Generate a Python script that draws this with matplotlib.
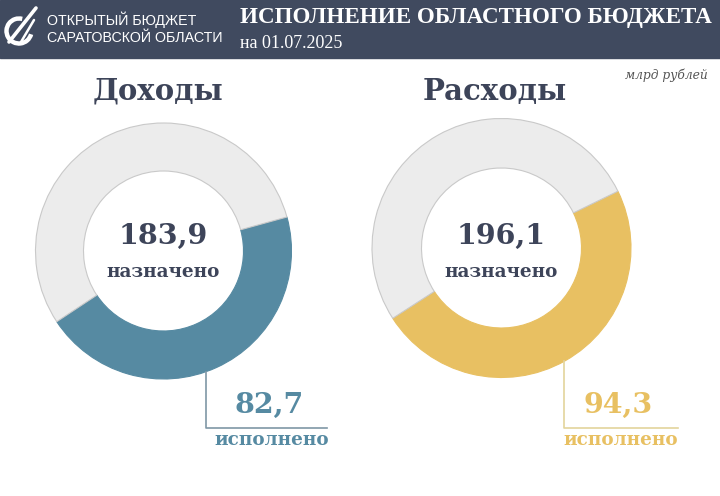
import matplotlib.pyplot as plt
from matplotlib.patches import Rectangle, Arc

# data (млрд рублей)
titles = ['Доходы', 'Расходы']
planned = [183.9, 196.1]
done = [82.7, 94.3]
colors = ['#568aa2', '#e8c062']
line_colors = ['#7f97a6', '#e3d49c']
header_title = 'ИСПОЛНЕНИЕ ОБЛАСТНОГО БЮДЖЕТА'
header_date = 'на 01.07.2025'
logo_lines = ['ОТКРЫТЫЙ БЮДЖЕТ', 'САРАТОВСКОЙ ОБЛАСТИ']
units = 'млрд рублей'

W, H = 720, 496
dark = '#3d4459'
serif = ['DejaVu Serif']
times = ['Liberation Serif', 'DejaVu Serif']
sans = ['Liberation Sans', 'DejaVu Sans']

fig = plt.figure(figsize=(7.2, 4.96), dpi=100)
ax = fig.add_axes([0, 0, 1, 1])


def fy(y):
    # image pixel row -> axis y
    return H - y


# header band + logo
ax.add_patch(Rectangle((0, fy(58)), W, 58, color='#404a5f', zorder=1))
ax.add_patch(Arc((19, fy(31)), 25, 25, theta1=75, theta2=345, ec='white', lw=3.2, zorder=2))
ax.plot([9, 36], [fy(42), fy(8)], color='white', lw=2.6, solid_capstyle='round', zorder=3)
ax.plot([21, 34], [fy(42), fy(20)], color='white', lw=1.8, solid_capstyle='round', zorder=3)
ax.text(47, fy(20), logo_lines[0], color='white', fontsize=10.3,
        family=sans, va='center', ha='left', zorder=3)
ax.text(47, fy(38), logo_lines[1], color='white', fontsize=10.3,
        family=sans, va='center', ha='left', zorder=3)
ax.text(240, fy(18), header_title, color='white', fontsize=16.6, fontweight='bold',
        family=times, va='center', ha='left', zorder=3)
ax.text(240, fy(44), header_date, color='white', fontsize=13,
        family=times, va='center', ha='left', zorder=3)
ax.text(708, fy(75), units, color='#555555', fontsize=8.8, style='italic',
        family=serif, va='center', ha='right')

centers = [(163.5, 251), (501.5, 248)]
radii = [128, 129.5]
starts = [15.4, 26]
title_x = [158, 495]
lead_x = [206, 564]
lead_end = [327, 678]
num_x = [269, 618]
lab_x = [272, 621]

for i in range(2):
    cx, cy = centers[i]
    r = radii[i]
    wedges, _ = ax.pie([done[i], planned[i] - done[i]], center=(cx, fy(cy)), radius=r,
                       startangle=starts[i], counterclock=False, frame=True,
                       colors=[colors[i], '#ececec'],
                       wedgeprops=dict(width=r - 80, linewidth=0.8))
    wedges[0].set_edgecolor(colors[i])
    wedges[1].set_edgecolor('#c9c9c9')

    ax.text(title_x[i], fy(91), titles[i], color=dark, fontsize=21, fontweight='bold',
            family=serif, ha='center', va='center')
    ax.text(cx, fy(236), f'{planned[i]:.1f}'.replace('.', ','), color=dark, fontsize=20.5,
            fontweight='bold', family=serif, ha='center', va='center')
    ax.text(cx, fy(272), 'назначено', color=dark, fontsize=13.2, fontweight='bold',
            family=serif, ha='center', va='center')

    # leader line
    y0 = cy + (r ** 2 - (lead_x[i] - cx) ** 2) ** 0.5
    ax.plot([lead_x[i], lead_x[i], lead_end[i]], [fy(y0), fy(427.5), fy(427.5)],
            color=line_colors[i], lw=1.2)
    ax.text(num_x[i], fy(405), f'{done[i]:.1f}'.replace('.', ','), color=colors[i],
            fontsize=20.5, fontweight='bold', family=serif, ha='center', va='center')
    ax.text(lab_x[i], fy(440), 'исполнено', color=colors[i], fontsize=13.2,
            fontweight='bold', family=serif, ha='center', va='center')

ax.set_xlim(0, W)
ax.set_ylim(0, H)
ax.set_aspect('equal')
ax.axis('off')

fig.savefig('out.png', dpi=100, facecolor='white')
